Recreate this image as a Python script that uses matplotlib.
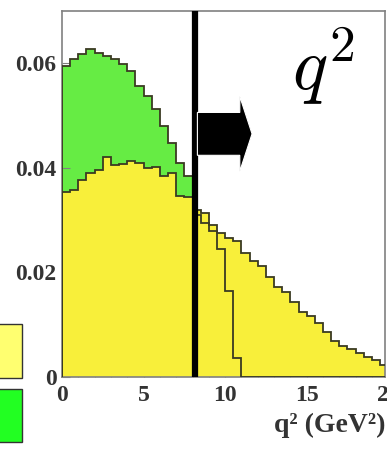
import numpy as np
import matplotlib
matplotlib.use("Agg")
import matplotlib.pyplot as plt
from matplotlib.patches import Rectangle, FancyArrow
from matplotlib import transforms

# ---- data ----
bin_edges = np.linspace(0.0, 20.0, 41)   # 0.5 GeV^2 bins

yellow_vals = [0.0353, 0.0357, 0.0376, 0.0391, 0.0395, 0.0420, 0.0406, 0.0408,
               0.0414, 0.0410, 0.0399, 0.0401, 0.0384, 0.0391, 0.0347, 0.0345,
               0.0320, 0.0313, 0.0290, 0.0275, 0.0265, 0.0261, 0.0237, 0.0221,
               0.0212, 0.0191, 0.0172, 0.0162, 0.0143, 0.0124, 0.0116, 0.0103,
               0.0086, 0.0069, 0.0059, 0.0053, 0.0046, 0.0038, 0.0032, 0.0023]

green_vals = [0.0594, 0.0609, 0.0618, 0.0628, 0.0620, 0.0614, 0.0609, 0.0599,
              0.0586, 0.0557, 0.0538, 0.0513, 0.0481, 0.0447, 0.0410, 0.0384,
              0.0310, 0.0295, 0.0280, 0.0245, 0.0165, 0.0036, 0.0, 0.0,
              0.0, 0.0, 0.0, 0.0, 0.0, 0.0, 0.0, 0.0,
              0.0, 0.0, 0.0, 0.0, 0.0, 0.0, 0.0, 0.0]

q2_cut = 8.15
x_ticks = [0, 5, 10, 15]
x_tick_labels = ["0", "5", "10", "15"]
y_ticks = [0, 0.02, 0.04, 0.06]
y_tick_labels = ["0", "0.02", "0.04", "0.06"]

# ---- style ----
yellow_fill = "#f8ef3a"
green_fill = "#66ec44"
edge_col = "#3a3a22"
spine_col = "#808080"
serif = "Liberation Serif"
plt.rcParams["mathtext.fontset"] = "cm"

W, H = 387, 449
fig = plt.figure(figsize=(W / 100, H / 100), dpi=100)
ax = fig.add_axes([62 / W, 72 / H, 323 / W, 366 / H])

ax.stairs(green_vals, bin_edges, fill=True, color=green_fill, zorder=1)
ax.stairs(yellow_vals, bin_edges, fill=True, color=yellow_fill, zorder=2)
ax.stairs(yellow_vals, bin_edges, color=edge_col, lw=1.3, zorder=3)
ax.stairs(green_vals, bin_edges, color=edge_col, lw=1.3, zorder=3)

ax.axvline(q2_cut, color="black", lw=4.5, zorder=5)
arrow = FancyArrow(q2_cut + 0.15, 0.0465, 3.35, 0.0, width=0.0082,
                   head_width=0.0143, head_length=0.75,
                   length_includes_head=True, facecolor="black",
                   edgecolor="white", lw=0.8, zorder=6)
ax.add_patch(arrow)

ax.set_xlim(0, 19.8)
ax.set_ylim(0, 0.07)

ax.set_xticks(x_ticks)
ax.set_xticklabels(x_tick_labels)
ax.set_yticks(y_ticks)
ax.set_yticklabels(y_tick_labels)
ax.set_xticks(np.arange(0, 20, 1), minor=True)
ax.tick_params(which="both", direction="in", colors=spine_col, top=False, right=False)
ax.tick_params(which="major", length=6, width=0.8)
ax.tick_params(which="minor", length=3, width=0.6)
ax.tick_params(axis="x", pad=6)
ax.tick_params(axis="y", pad=4)
for lab in ax.get_xticklabels() + ax.get_yticklabels():
    lab.set_fontfamily(serif)
    lab.set_fontweight("bold")
    lab.set_fontsize(17)
    lab.set_color("#333333")

for s in ax.spines.values():
    s.set_color(spine_col)
    s.set_linewidth(1.2)

# clipped "20" tick label at the right edge (cut off in the reference too)
trans = transforms.offset_copy(ax.get_xaxis_transform(), fig=fig, x=0, y=-6, units="points")
ax.text(20, 0, "20", transform=trans, ha="center", va="top", fontfamily=serif,
        fontweight="bold", fontsize=17, color="#333333", clip_on=False)

# big q^2 label
ax.text(0.712, 0.96, r"$q^2$", transform=ax.transAxes, fontsize=53,
        ha="left", va="top", color="black", zorder=7)

# x axis title
fig.text(385 / W, (H - 432) / H, "q² (GeV²)", ha="right", va="baseline",
         fontfamily=serif, fontweight="bold", fontsize=20, color="#333333")

# legend boxes cut off at the left edge
fig.patches.append(Rectangle((-0.05, (H - 378) / H), 0.05 + 22 / W, 54 / H,
                             transform=fig.transFigure, facecolor="#ffff70",
                             edgecolor="#333333", lw=1.0))
fig.patches.append(Rectangle((-0.05, (H - 442) / H), 0.05 + 22 / W, 53 / H,
                             transform=fig.transFigure, facecolor="#22ff22",
                             edgecolor="#333333", lw=1.0))

fig.savefig("out.png", dpi=100)
